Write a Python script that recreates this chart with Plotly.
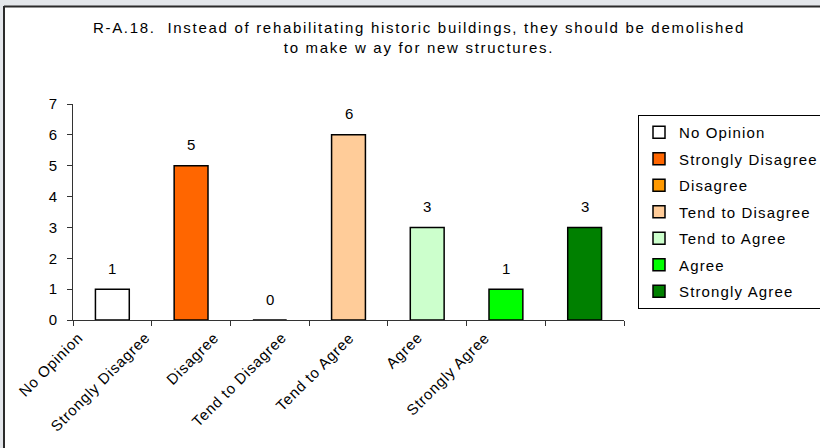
import plotly.graph_objects as go

categories = ["No Opinion", "Strongly Disagree", "Disagree", "Tend to Disagree",
              "Tend to Agree", "Agree", "Strongly Agree"]
values = [1, 5, 0, 6, 3, 1, 3]
colors = ["#FFFFFF", "#FF6600", "#FF9900", "#FFCC99", "#CCFFCC", "#00FF00", "#008000"]
title_lines = ["R-A.18.  Instead of rehabilitating historic buildings, they should be demolished",
               "to make w ay for new structures."]

W, H = 820, 448
ML, MR, MT, MB = 73, 196, 104, 128
PW, PH = W - ML - MR, H - MT - MB
FONT = "Liberation Sans, Arial, sans-serif"


def px_x(p):
    return (p - ML) / PW


def px_y(p):
    return 1 - (p - MT) / PH


def spaced(s, ls):
    return f'<span style="letter-spacing:{ls}px">{s}</span>'


fig = go.Figure()
for i, (c, v, col) in enumerate(zip(categories, values, colors)):
    fig.add_trace(go.Bar(
        x=[c], y=[v], name=spaced(c, 1.15),
        marker=dict(color=col, line=dict(color="#000000", width=1.5)),
        width=0.43, legendgroup=str(i), showlegend=True,
    ))
    fig.add_annotation(x=c, y=v, xref="x", yref="y", text=str(v), showarrow=False,
                       yanchor="middle", yshift=21, font=dict(size=15, color="#000"))
    fig.add_annotation(x=c, y=0, xref="x", yref="y", text=spaced(c, 0.8), showarrow=False,
                       textangle=-45, xanchor="right", yanchor="top",
                       xshift=-(24 + 10.8 * i), yshift=-6, font=dict(size=15, color="#000"))

# frame of the (cropped) chart
shapes = [
    dict(type="rect", xref="paper", yref="paper", x0=px_x(0), x1=px_x(W), y0=px_y(0), y1=px_y(6),
         fillcolor="#E4E7EB", line=dict(width=0), layer="above"),
    dict(type="rect", xref="paper", yref="paper", x0=px_x(0), x1=px_x(3), y0=px_y(0), y1=px_y(H),
         fillcolor="#E4E7EB", line=dict(width=0), layer="above"),
    dict(type="line", xref="paper", yref="paper", x0=px_x(4), x1=px_x(W), y0=px_y(6.5), y1=px_y(6.5),
         line=dict(color="#2B2B2B", width=2), layer="above"),
    dict(type="line", xref="paper", yref="paper", x0=px_x(4), x1=px_x(4), y0=px_y(6), y1=px_y(H),
         line=dict(color="#2B2B2B", width=2), layer="above"),
]

fig.update_layout(
    width=W, height=H,
    margin=dict(l=ML, r=MR, t=MT, b=MB, autoexpand=False),
    paper_bgcolor="#FFFFFF", plot_bgcolor="#FFFFFF",
    font=dict(family=FONT, size=15, color="#000"),
    barmode="overlay",
    shapes=shapes,
    title=dict(text="<br>".join(spaced(t, 1.7) for t in title_lines),
               x=419 / W, xanchor="center", xref="container",
               y=1 - 33 / H, yanchor="top", yref="container",
               font=dict(size=15, family=FONT, color="#000")),
    legend=dict(x=px_x(638), y=px_y(115), xanchor="left", yanchor="top",
                bordercolor="#000", borderwidth=1, bgcolor="#FFFFFF",
                font=dict(size=15, color="#000"), tracegroupgap=4, traceorder="grouped"),
    xaxis=dict(type="category", categoryorder="array", categoryarray=categories,
               showticklabels=False, tickson="boundaries", ticks="outside", ticklen=5,
               tickcolor="#333", showline=True, linecolor="#333", linewidth=1,
               showgrid=False, zeroline=False, range=[-0.5, 6.5]),
    yaxis=dict(range=[0, 7], dtick=1, ticks="outside", ticklen=5, tickcolor="#333",
               showline=True, linecolor="#333", linewidth=1, showgrid=False,
               zeroline=False, tickfont=dict(size=15), ticklabelstandoff=7),
)

fig.write_html("out.html", config={"displayModeBar": False},
               post_script="document.body.style.margin='0';")
